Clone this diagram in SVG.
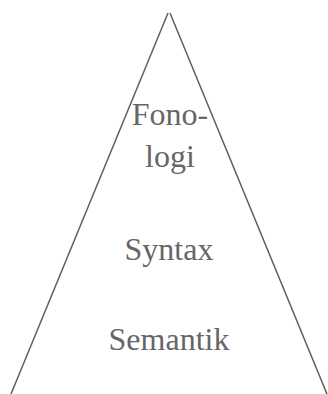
<svg xmlns="http://www.w3.org/2000/svg" width="328" height="394" viewBox="0 0 328 394">
<style>
.t{font-family:"Liberation Serif","Times New Roman",serif;font-size:32px;fill:#666;text-anchor:middle}
.e{stroke:#5f5f5f;stroke-width:1.5;fill:none}
</style>
<rect width="328" height="394" fill="#fff"/>
<g id="connectors">
<line class="e" x1="168" y1="13" x2="11" y2="394"/>
<line class="e" x1="170" y1="13" x2="327" y2="394"/>
</g>
<g id="fonologi"><text class="t" x="170" y="125">Fono-</text><text class="t" x="170" y="167">logi</text></g>
<g id="syntax"><text class="t" x="169" y="260">Syntax</text></g>
<g id="semantik"><text class="t" x="169" y="350">Semantik</text></g>
</svg>
